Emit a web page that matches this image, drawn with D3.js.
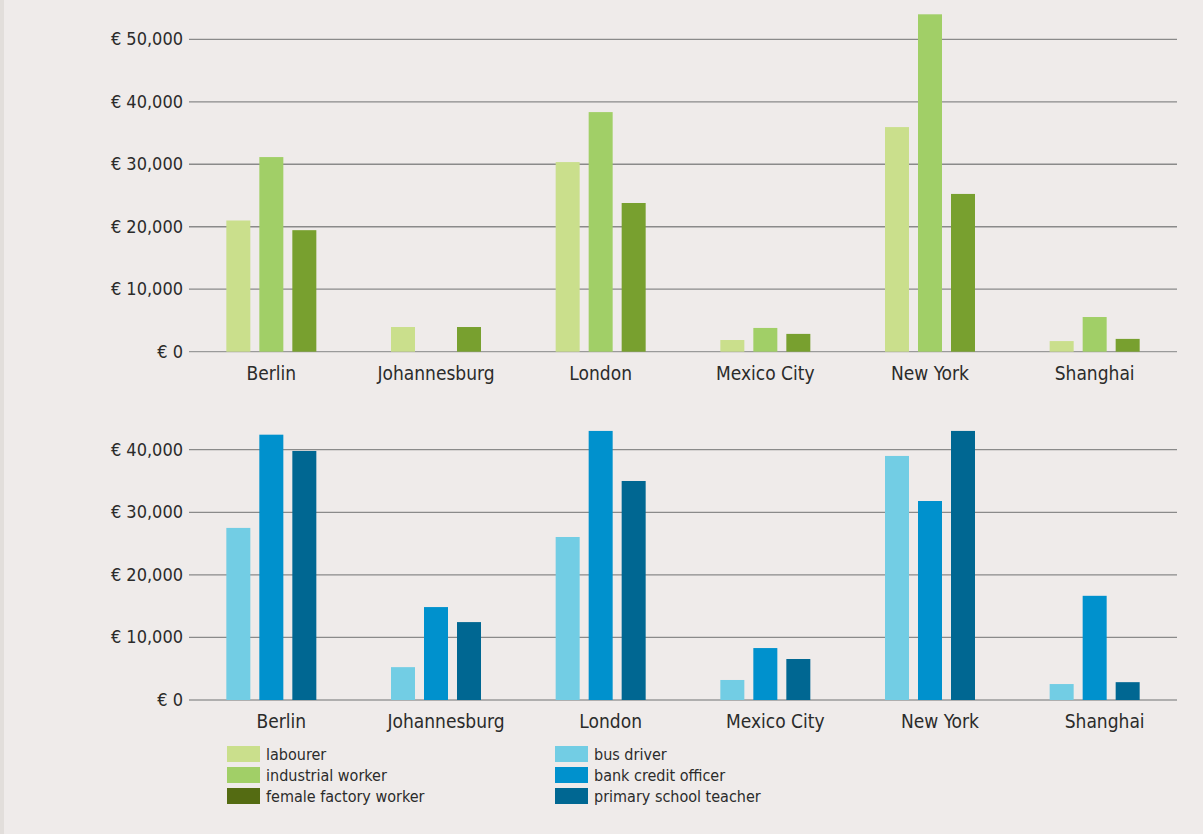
<!DOCTYPE html>
<html>
<head>
<meta charset="utf-8">
<script src="https://cdn.jsdelivr.net/npm/d3@7"></script>
<style>
  body { margin: 0; background: #efebea; }
  svg { display: block; }
  text { font-family: "Liberation Sans Narrow", "DejaVu Sans Condensed", "Roboto", sans-serif; fill: #2b2b2b; }
</style>
</head>
<body>
<svg id="chart"></svg>
<script>
var WIDTH = 1203;
var HEIGHT = 834;

// cities along the x axis
var cities = ['Berlin', 'Johannesburg', 'London', 'Mexico City', 'New York', 'Shanghai'];

// top chart: manual jobs (annual gross income, euros)
var manualJobs = ['labourer', 'industrial worker', 'female factory worker'];
var labourer = [21000, 3950, 30350, 1870, 35950, 1700];
var industrialWorker = [31150, 0, 38350, 3800, 54000, 5550];
var femaleFactoryWorker = [19450, 3950, 23800, 2850, 25250, 2050];
var manualTicks = [0, 10000, 20000, 30000, 40000, 50000];

// bottom chart: service jobs
var serviceJobs = ['bus driver', 'bank credit officer', 'primary school teacher'];
var busDriver = [27500, 5250, 26050, 3200, 39000, 2550];
var bankCreditOfficer = [42400, 14850, 43000, 8300, 31800, 16650];
var schoolTeacher = [39800, 12450, 35000, 6550, 43000, 2850];
var serviceTicks = [0, 10000, 20000, 30000, 40000];

var manualBarColors = ['#cadf8c', '#a1cf67', '#78a02f'];
var manualKeyColors = ['#cadf8c', '#a1cf67', '#546b12'];
var serviceColors = ['#72cde4', '#0091cd', '#006792'];

var svg = d3.select('#chart')
    .attr('width', WIDTH)
    .attr('height', HEIGHT);

svg.append('rect')
    .attr('width', WIDTH).attr('height', HEIGHT)
    .attr('fill', '#efebea');
svg.append('rect') // thin darker strip on the left edge
    .attr('width', 4).attr('height', HEIGHT)
    .attr('fill', '#e2dedb');

var x = d3.scaleBand().domain(cities).range([189, 1177]);
var euro = function(v) { return '€ ' + d3.format(',')(v); };

function drawPanel(cfg) {
    var y = d3.scaleLinear().domain([0, cfg.max]).range([cfg.bottom, cfg.top]);
    var inner = d3.scaleBand().domain(cfg.series).range([-45, 45]).paddingInner(0.2727);
    var g = svg.append('g');

    // gridlines
    g.selectAll('line.grid')
        .data(cfg.ticks)
        .enter().append('line')
        .attr('x1', 189).attr('x2', 1177)
        .attr('y1', function(d) { return y(d); })
        .attr('y2', function(d) { return y(d); })
        .attr('stroke', function(d) { return d === 0 ? '#9a9a9a' : '#8a8a8a'; })
        .attr('stroke-width', 1.3);

    // y tick labels
    g.selectAll('text.tick')
        .data(cfg.ticks)
        .enter().append('text')
        .attr('x', 183)
        .attr('y', function(d) { return y(d) + 6; })
        .attr('text-anchor', 'end')
        .style('font-size', '18px')
        .text(euro);

    // bars, one group per city
    var rows = cities.map(function(c, i) {
        return { city: c, values: cfg.values.map(function(arr, k) { return { key: cfg.series[k], k: k, v: arr[i] }; }) };
    });
    var groups = g.selectAll('g.city')
        .data(rows)
        .enter().append('g')
        .attr('transform', function(d) { return 'translate(' + (x(d.city) + x.bandwidth() / 2) + ',0)'; });
    groups.selectAll('rect')
        .data(function(d) { return d.values; })
        .enter().append('rect')
        .attr('x', function(d) { return inner(d.key); })
        .attr('width', inner.bandwidth())
        .attr('y', function(d) { return y(d.v); })
        .attr('height', function(d) { return y(0) - y(d.v); })
        .attr('fill', function(d) { return cfg.colors[d.k]; });

    // city labels
    g.selectAll('text.city')
        .data(cities)
        .enter().append('text')
        .attr('x', function(d) { return x(d) + x.bandwidth() / 2 + cfg.labelShift; })
        .attr('y', cfg.bottom + 28)
        .attr('text-anchor', 'middle')
        .style('font-size', '19px')
        .text(function(d) { return d; });
}

drawPanel({
    series: manualJobs,
    values: [labourer, industrialWorker, femaleFactoryWorker],
    colors: manualBarColors,
    ticks: manualTicks,
    max: 50000, top: 39.3, bottom: 351.7, labelShift: 0
});
drawPanel({
    series: serviceJobs,
    values: [busDriver, bankCreditOfficer, schoolTeacher],
    colors: serviceColors,
    ticks: serviceTicks,
    max: 40000, top: 449.7, bottom: 700, labelShift: 10
});

// legend, two columns
function drawLegend(names, colors, x0) {
    var items = svg.append('g').selectAll('g')
        .data(names)
        .enter().append('g')
        .attr('transform', function(d, i) { return 'translate(' + x0 + ',' + (746 + i * 21) + ')'; });
    items.append('rect')
        .attr('width', 33).attr('height', 16)
        .attr('fill', function(d, i) { return colors[i]; });
    items.append('text')
        .attr('x', 39).attr('y', 14)
        .style('font-size', '16px')
        .text(function(d) { return d; });
}
drawLegend(manualJobs, manualKeyColors, 227);
drawLegend(serviceJobs, serviceColors, 555);
</script>
</body>
</html>
